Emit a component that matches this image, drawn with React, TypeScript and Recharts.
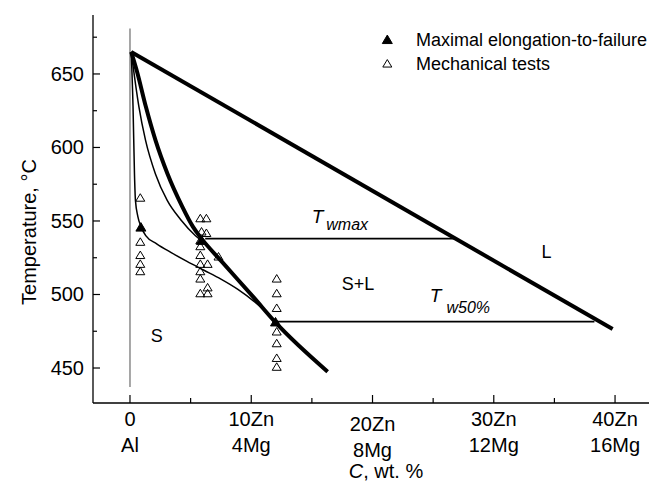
import {
  ComposedChart,
  Line,
  Scatter,
  XAxis,
  YAxis,
  ReferenceDot,
  Legend,
} from "recharts";

const FONT = "'Liberation Sans', Arial, Helvetica, sans-serif";

// composition axis: wt.% Zn, Mg follows at Zn/2.5
const xTicks = [0, 5, 10, 15, 20, 25, 30, 35, 40];
const znLabels: Record<number, string> = { 0: "0", 10: "10Zn", 20: "20Zn", 30: "30Zn", 40: "40Zn" };
const mgLabels: Record<number, string> = { 0: "Al", 10: "4Mg", 20: "8Mg", 30: "12Mg", 40: "16Mg" };

// temperature axis, degrees C
const tempTicks = [450, 475, 500, 525, 550, 575, 600, 625, 650, 675];
const tempLabels = [450, 500, 550, 600, 650];

// phase boundaries (x = wt.% Zn, t = temperature)
const liquidus = [
  { x: 0.1, t: 665 },
  { x: 39.8, t: 476.5 },
];
const solidusThick = [
  { x: 0.1, t: 665 },
  { x: 0.6, t: 651 },
  { x: 1.3, t: 628 },
  { x: 2.1, t: 605 },
  { x: 3.1, t: 582 },
  { x: 4.3, t: 560 },
  { x: 5.2, t: 546 },
  { x: 5.9, t: 538 },
  { x: 7.5, t: 523 },
  { x: 10.2, t: 498 },
  { x: 12, t: 481 },
  { x: 16.3, t: 447.5 },
];
const solidusMid = [
  { x: 0.1, t: 665 },
  { x: 0.73, t: 628 },
  { x: 1.28, t: 605 },
  { x: 2.1, t: 582 },
  { x: 3.07, t: 564 },
  { x: 4.17, t: 551 },
  { x: 5.4, t: 540 },
  { x: 6.0, t: 536 },
];
const solidusLow = [
  { x: 0.1, t: 665 },
  { x: 0.25, t: 628 },
  { x: 0.37, t: 582 },
  { x: 0.45, t: 564 },
  { x: 0.65, t: 553 },
  { x: 0.92, t: 546 },
  { x: 1.3, t: 540 },
  { x: 2.2, t: 534.5 },
  { x: 3.4, t: 528.5 },
  { x: 4.7, t: 522.5 },
  { x: 6.1, t: 516.5 },
  { x: 7.5, t: 510.5 },
  { x: 8.9, t: 503.5 },
  { x: 10.2, t: 495.5 },
  { x: 11.6, t: 485 },
  { x: 12, t: 481 },
];
const pureAl = [
  { x: 0, t: 437 },
  { x: 0, t: 681 },
];
const twMax = [
  { x: 6.2, t: 538 },
  { x: 26.8, t: 538 },
];
const tw50 = [
  { x: 12, t: 481.5 },
  { x: 38.3, t: 481.5 },
];

// measurements
const maxElongation = [
  { x: 0.9, t: 546 },
  { x: 5.9, t: 537 },
  { x: 12, t: 481.5 },
];
const mechTests = [
  { x: 0.85, t: 566 },
  { x: 0.85, t: 536 },
  { x: 0.85, t: 527 },
  { x: 0.85, t: 521 },
  { x: 0.85, t: 516 },
  { x: 5.8, t: 552 },
  { x: 6.3, t: 552 },
  { x: 5.9, t: 543 },
  { x: 6.3, t: 542 },
  { x: 5.8, t: 537 },
  { x: 5.8, t: 533 },
  { x: 5.8, t: 527 },
  { x: 5.8, t: 521 },
  { x: 6.4, t: 521 },
  { x: 5.8, t: 516 },
  { x: 5.8, t: 511 },
  { x: 6.4, t: 505 },
  { x: 5.8, t: 501 },
  { x: 6.4, t: 501 },
  { x: 7.3, t: 526 },
  { x: 12.1, t: 511 },
  { x: 12.1, t: 501 },
  { x: 12.1, t: 491 },
  { x: 12.1, t: 475 },
  { x: 12.1, t: 467 },
  { x: 12.1, t: 457 },
  { x: 12.1, t: 451 },
];

const legendItems = [
  { label: "Maximal elongation-to-failure", filled: true },
  { label: "Mechanical tests", filled: false },
];

const X_DOMAIN: [number, number] = [-3.05, 42.8];
const Y_DOMAIN: [number, number] = [426.2, 690.1];

function triPath(cx: number, cy: number, w: number, h: number) {
  return `M${cx},${cy - h / 2}L${cx + w / 2},${cy + h / 2}L${cx - w / 2},${cy + h / 2}Z`;
}

function OpenTriangle(props: any) {
  const { cx, cy } = props;
  if (cx == null || cy == null) return null;
  return <path d={triPath(cx, cy, 9, 7.5)} fill="none" stroke="#000" strokeWidth={1} />;
}

function FilledTriangle(props: any) {
  const { cx, cy } = props;
  if (cx == null || cy == null) return null;
  return <path d={triPath(cx, cy, 10, 8.5)} fill="#000" stroke="#000" strokeWidth={1} />;
}

function BottomTick(props: any) {
  const { x, y, payload } = props;
  const v = payload.value;
  const major = v % 10 === 0;
  const shift = v === 20 ? 5 : 0;
  return (
    <g>
      <line x1={x} x2={x} y1={y} y2={y - (major ? 8 : 5)} stroke="#000" strokeWidth={1.2} />
      {major && (
        <text x={x} y={y + 23 + shift} textAnchor="middle" fontSize={20} fontFamily={FONT} fill="#000">
          {znLabels[v]}
        </text>
      )}
      {major && (
        <text x={x} y={y + 49 + shift} textAnchor="middle" fontSize={20} fontFamily={FONT} fill="#000">
          {mgLabels[v]}
        </text>
      )}
    </g>
  );
}

function TopTick(props: any) {
  const { x, y } = props;
  return <line x1={x} x2={x} y1={y} y2={y + 8} stroke="#000" strokeWidth={1.2} />;
}

function LeftTick(props: any) {
  const { x, y, payload } = props;
  const major = tempLabels.includes(payload.value);
  return (
    <g>
      <line x1={x} x2={x + (major ? 7 : 4)} y1={y} y2={y} stroke="#000" strokeWidth={1.2} />
      {major && (
        <text x={x - 9} y={y + 7} textAnchor="end" fontSize={20} fontFamily={FONT} fill="#000">
          {payload.value}
        </text>
      )}
    </g>
  );
}

function RightTick(props: any) {
  const { x, y, payload } = props;
  const major = tempLabels.includes(payload.value);
  return <line x1={x} x2={x - (major ? 7 : 4)} y1={y} y2={y} stroke="#000" strokeWidth={1.2} />;
}

function PlainText(text: string, size = 18) {
  return (p: any) => {
    const vb = p.viewBox || { x: 0, y: 0, width: 0, height: 0 };
    const cx = vb.x + (vb.width || 0) / 2;
    const cy = vb.y + (vb.height || 0) / 2;
    return (
      <text x={cx} y={cy + size * 0.36} textAnchor="middle" fontSize={size} fontFamily={FONT} fill="#000">
        {text}
      </text>
    );
  };
}

function TempSymbol(sub: string, subDy: number, subDx: number) {
  return (p: any) => {
    const vb = p.viewBox || { x: 0, y: 0, width: 0, height: 0 };
    const x = vb.x + (vb.width || 0) / 2;
    const y = vb.y + (vb.height || 0) / 2;
    return (
      <text x={x} y={y} fontFamily={FONT} fill="#000" fontStyle="italic">
        <tspan fontSize={19}>T</tspan>
        <tspan fontSize={16} dx={subDx} dy={subDy}>
          {sub}
        </tspan>
      </text>
    );
  };
}

function renderLegend() {
  return (
    <svg width={275} height={52}>
      {legendItems.map((item, i) => {
        const rowY = 11.3 + i * 24;
        return (
          <g key={item.label}>
            <path
              d={triPath(12.3, rowY, item.filled ? 10 : 9, item.filled ? 8.5 : 7.5)}
              fill={item.filled ? "#000" : "none"}
              stroke="#000"
              strokeWidth={1}
            />
            <text x={41} y={rowY + 7} fontSize={18} fontFamily={FONT} fill="#000">
              {item.label}
            </text>
          </g>
        );
      })}
    </svg>
  );
}

export default function App() {
  return (
    <div
      style={{
        position: "absolute",
        left: 0,
        top: 0,
        width: 650,
        height: 486,
        background: "#fff",
        fontFamily: FONT,
      }}
    >
      <ComposedChart width={650} height={486} margin={{ top: 15, right: 1, bottom: 23, left: 33 }}>
        <XAxis
          xAxisId={0}
          type="number"
          dataKey="x"
          domain={X_DOMAIN}
          allowDataOverflow
          ticks={xTicks}
          interval={0}
          tickSize={0}
          tickMargin={0}
          height={60}
          tick={<BottomTick />}
          axisLine={{ stroke: "#000", strokeWidth: 1.3 }}
          tickLine={false}
          label={{
            content: (p: any) => {
              const vb = p.viewBox || { x: 93, y: 403 };
              return (
                <text x={vb.x + 293} y={vb.y + 75} textAnchor="middle" fontSize={20} fontFamily={FONT} fill="#000">
                  <tspan fontStyle="italic">C</tspan>
                  <tspan>, wt. %</tspan>
                </text>
              );
            },
          }}
        />
        <XAxis
          xAxisId="top"
          orientation="top"
          type="number"
          dataKey="x"
          domain={X_DOMAIN}
          allowDataOverflow
          ticks={xTicks}
          interval={0}
          tickSize={0}
          tickMargin={0}
          height={0}
          tick={<TopTick />}
          axisLine={{ stroke: "#000", strokeWidth: 1.3 }}
          tickLine={false}
        />
        <YAxis
          yAxisId={0}
          type="number"
          dataKey="t"
          domain={Y_DOMAIN}
          allowDataOverflow
          ticks={tempTicks}
          interval={0}
          tickSize={0}
          tickMargin={0}
          width={60}
          tick={<LeftTick />}
          axisLine={{ stroke: "#000", strokeWidth: 1.3 }}
          tickLine={false}
          label={{
            content: (p: any) => {
              const vb = p.viewBox || { x: 33, y: 15 };
              const lx = vb.x + 3;
              const ly = vb.y + 217;
              return (
                <text
                  x={lx}
                  y={ly}
                  transform={`rotate(-90 ${lx} ${ly})`}
                  textAnchor="middle"
                  fontSize={20}
                  fontFamily={FONT}
                  fill="#000"
                >
                  Temperature, °C
                </text>
              );
            },
          }}
        />
        <YAxis
          yAxisId="right"
          orientation="right"
          type="number"
          dataKey="t"
          domain={Y_DOMAIN}
          allowDataOverflow
          ticks={tempTicks}
          interval={0}
          tickSize={0}
          tickMargin={0}
          width={0}
          tick={<RightTick />}
          axisLine={{ stroke: "#000", strokeWidth: 1.3 }}
          tickLine={false}
        />

        <Line data={pureAl} dataKey="t" type="linear" stroke="#8a8a8a" strokeWidth={1.5} dot={false} activeDot={false} isAnimationActive={false} legendType="none" />
        <Line data={twMax} dataKey="t" type="linear" stroke="#000" strokeWidth={1.8} dot={false} activeDot={false} isAnimationActive={false} legendType="none" />
        <Line data={tw50} dataKey="t" type="linear" stroke="#000" strokeWidth={1.8} dot={false} activeDot={false} isAnimationActive={false} legendType="none" />
        <Line data={solidusLow} dataKey="t" type="monotone" stroke="#000" strokeWidth={1.5} dot={false} activeDot={false} isAnimationActive={false} legendType="none" />
        <Line data={solidusMid} dataKey="t" type="monotone" stroke="#000" strokeWidth={1.5} dot={false} activeDot={false} isAnimationActive={false} legendType="none" />
        <Line data={solidusThick} dataKey="t" type="monotone" stroke="#000" strokeWidth={4} dot={false} activeDot={false} isAnimationActive={false} legendType="none" />
        <Line data={liquidus} dataKey="t" type="linear" stroke="#000" strokeWidth={4} dot={false} activeDot={false} isAnimationActive={false} legendType="none" />

        <Scatter name="Mechanical tests" data={mechTests} dataKey="t" shape={<OpenTriangle />} isAnimationActive={false} />
        <Scatter name="Maximal elongation-to-failure" data={maxElongation} dataKey="t" shape={<FilledTriangle />} isAnimationActive={false} />

        <ReferenceDot x={18.8} y={507.8} r={0} fill="none" stroke="none" ifOverflow="visible" label={{ content: PlainText("S+L") }} />
        <ReferenceDot x={34.35} y={529.1} r={0} fill="none" stroke="none" ifOverflow="visible" label={{ content: PlainText("L") }} />
        <ReferenceDot x={2.2} y={471.8} r={0} fill="none" stroke="none" ifOverflow="visible" label={{ content: PlainText("S") }} />
        <ReferenceDot x={14.98} y={548.6} r={0} fill="none" stroke="none" ifOverflow="visible" label={{ content: TempSymbol("wmax", 7, 3) }} />
        <ReferenceDot x={24.73} y={494.9} r={0} fill="none" stroke="none" ifOverflow="visible" label={{ content: TempSymbol("w50%", 11, 5) }} />

        <Legend
          layout="vertical"
          align="center"
          verticalAlign="middle"
          content={renderLegend}
          wrapperStyle={{ left: 375, top: 28, width: 275, height: 52 }}
        />
      </ComposedChart>
    </div>
  );
}
